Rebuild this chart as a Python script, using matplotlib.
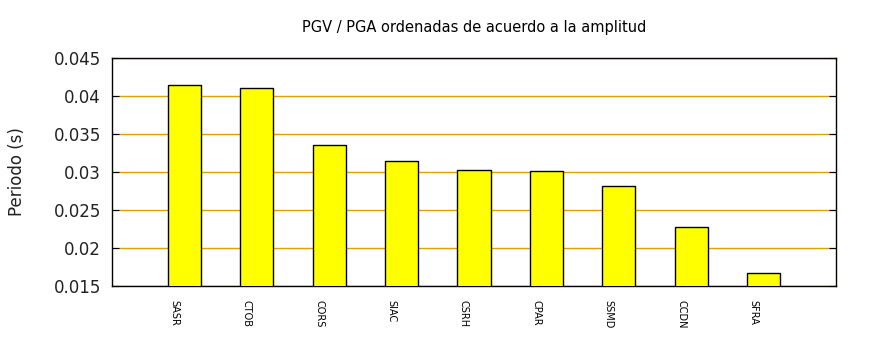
import matplotlib.pyplot as plt

estaciones = ["SASR", "CTOB", "CORS", "SIAC", "CSRH", "CPAR", "SSMD", "CCDN", "SFRA"]
periodo = [0.04145, 0.0410, 0.0336, 0.0314, 0.0303, 0.0301, 0.0281, 0.0227, 0.0167]
yticks = [0.015, 0.02, 0.025, 0.03, 0.035, 0.04, 0.045]
ytick_labels = ["0.015", "0.02", "0.025", "0.03", "0.035", "0.04", "0.045"]

fig = plt.figure(figsize=(8.7, 3.5), dpi=100)
ax = fig.add_axes([112 / 870, 1 - 286 / 350, 724 / 870, 228 / 350])

x = list(range(len(estaciones)))
ax.bar(x, periodo, width=0.46, color="#ffff00", edgecolor="black", linewidth=1.0, zorder=3)

ax.set_xlim(-1, len(estaciones))
ax.set_ylim(0.015, 0.045)
ax.set_yticks(yticks)
ax.set_yticklabels(ytick_labels, fontsize=12, color="#222222")
ax.yaxis.grid(True, color="#e0a000", linewidth=1.0, zorder=0)
ax.tick_params(axis="y", direction="in", length=5, right=True, pad=8)

# station names sit a little left of each bar
ax.set_xticks([i - 0.14 for i in x])
ax.set_xticklabels(estaciones, rotation=270, fontsize=7, ha="center", va="top")
ax.tick_params(axis="x", length=0, pad=10)

for s in ax.spines.values():
    s.set_linewidth(1.0)

ax.set_ylabel("Periodo (s)", fontsize=12, color="#222222", labelpad=20)
ax.set_title("PGV / PGA ordenadas de acuerdo a la amplitud", fontsize=10.5, pad=19)

fig.savefig("out.png", dpi=100)
